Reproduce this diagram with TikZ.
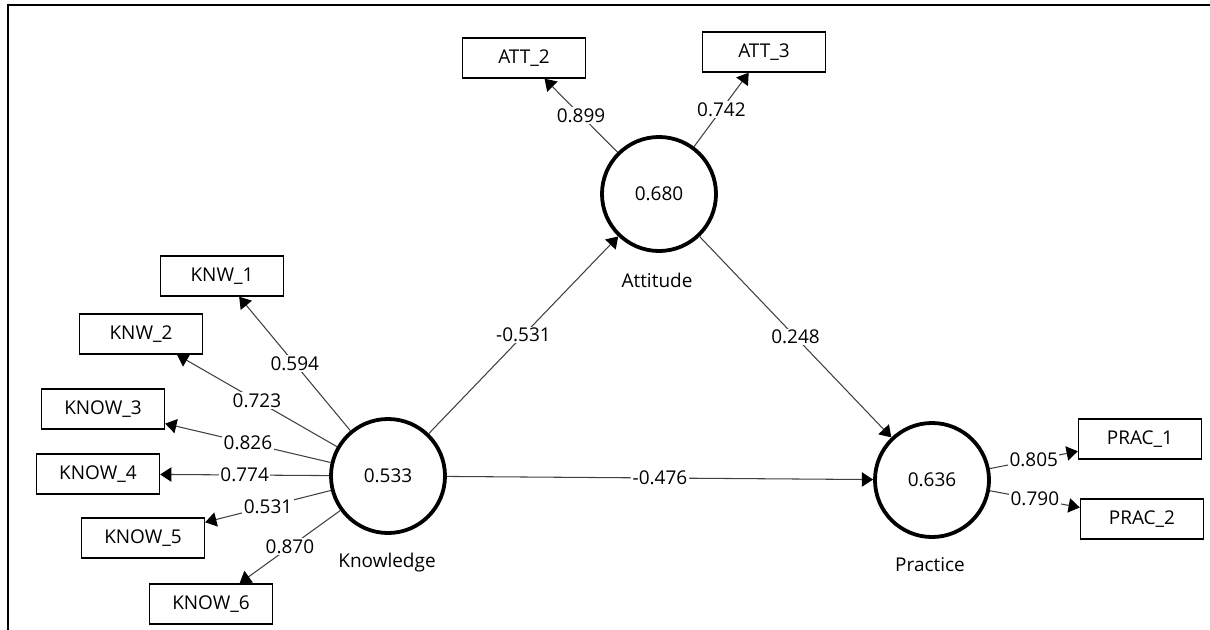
\documentclass[tikz,border=0pt]{standalone}
\usepackage{fontspec}
\setmainfont{Open Sans}
\usetikzlibrary{arrows.meta,positioning}
\definecolor{linegray}{RGB}{64,64,64}

\tikzset{
  indbox/.style={draw,line width=1pt,minimum width=3.075cm,minimum height=1cm,inner sep=0pt,font=\fontsize{13.5}{15}\selectfont},
  latent/.style={circle,draw,line width=2.7pt,minimum size=2.85cm,inner sep=0pt,font=\fontsize{13.5}{15}\selectfont},
  latname/.style={inner sep=1pt,font=\fontsize{13.5}{15}\selectfont},
  arr/.style={draw=linegray,line width=0.75pt,-{Triangle[length=0.28cm,width=0.36cm,color=black]}},
  coef/.style={fill=white,inner sep=1pt,font=\fontsize{13.5}{15}\selectfont}
}

\begin{document}
\begin{tikzpicture}[x=0.025cm,y=-0.025cm]
\useasboundingbox (0,0) rectangle (1210,630);
\draw[line width=1.5pt] (8,630) -- (8,5) -- (1210,5);

% latent variables
\node[latent] (know) at (388,476) {0.533};
\node[latent] (att) at (659,194) {0.680};
\node[latent] (prac) at (932,480) {0.636};
\node[latname] (knowname) at (387,563) {Knowledge};
\node[latname] (attname) at (657,280) {Attitude};
\node[latname] (pracname) at (930,565) {Practice};

% indicators
\node[indbox] (att2) at (524,58) {ATT\_2};
\node[indbox] (att3) at (764,52) {ATT\_3};
\node[indbox] (knw1) at (222,276) {KNW\_1};
\node[indbox] (knw2) at (141,334) {KNW\_2};
\node[indbox] (know3) at (103,409) {KNOW\_3};
\node[indbox] (know4) at (98,474) {KNOW\_4};
\node[indbox] (know5) at (143,538) {KNOW\_5};
\node[indbox] (know6) at (211,604) {KNOW\_6};
\node[indbox] (prac1) at (1140,439) {PRAC\_1};
\node[indbox] (prac2) at (1142,519) {PRAC\_2};

% structural paths
\draw[arr] (know) -- node[coef] {-0.531} (att);
\draw[arr] (att) -- node[coef] {0.248} (prac);
\draw[arr] (know) -- node[coef] {-0.476} (prac);

% loadings
\draw[arr] (know) -- node[coef] {0.594} (knw1);
\draw[arr] (know) -- node[coef] {0.723} (knw2);
\draw[arr] (know) -- node[coef] {0.826} (know3);
\draw[arr] (know) -- node[coef] {0.774} (know4);
\draw[arr] (know) -- node[coef] {0.531} (know5);
\draw[arr] (know) -- node[coef] {0.870} (know6);
\draw[arr] (att) -- node[coef] {0.899} (att2);
\draw[arr] (att) -- node[coef] {0.742} (att3);
\draw[arr] (prac) -- node[coef] {0.805} (prac1);
\draw[arr] (prac) -- node[coef] {0.790} (prac2);
\end{tikzpicture}
\end{document}
